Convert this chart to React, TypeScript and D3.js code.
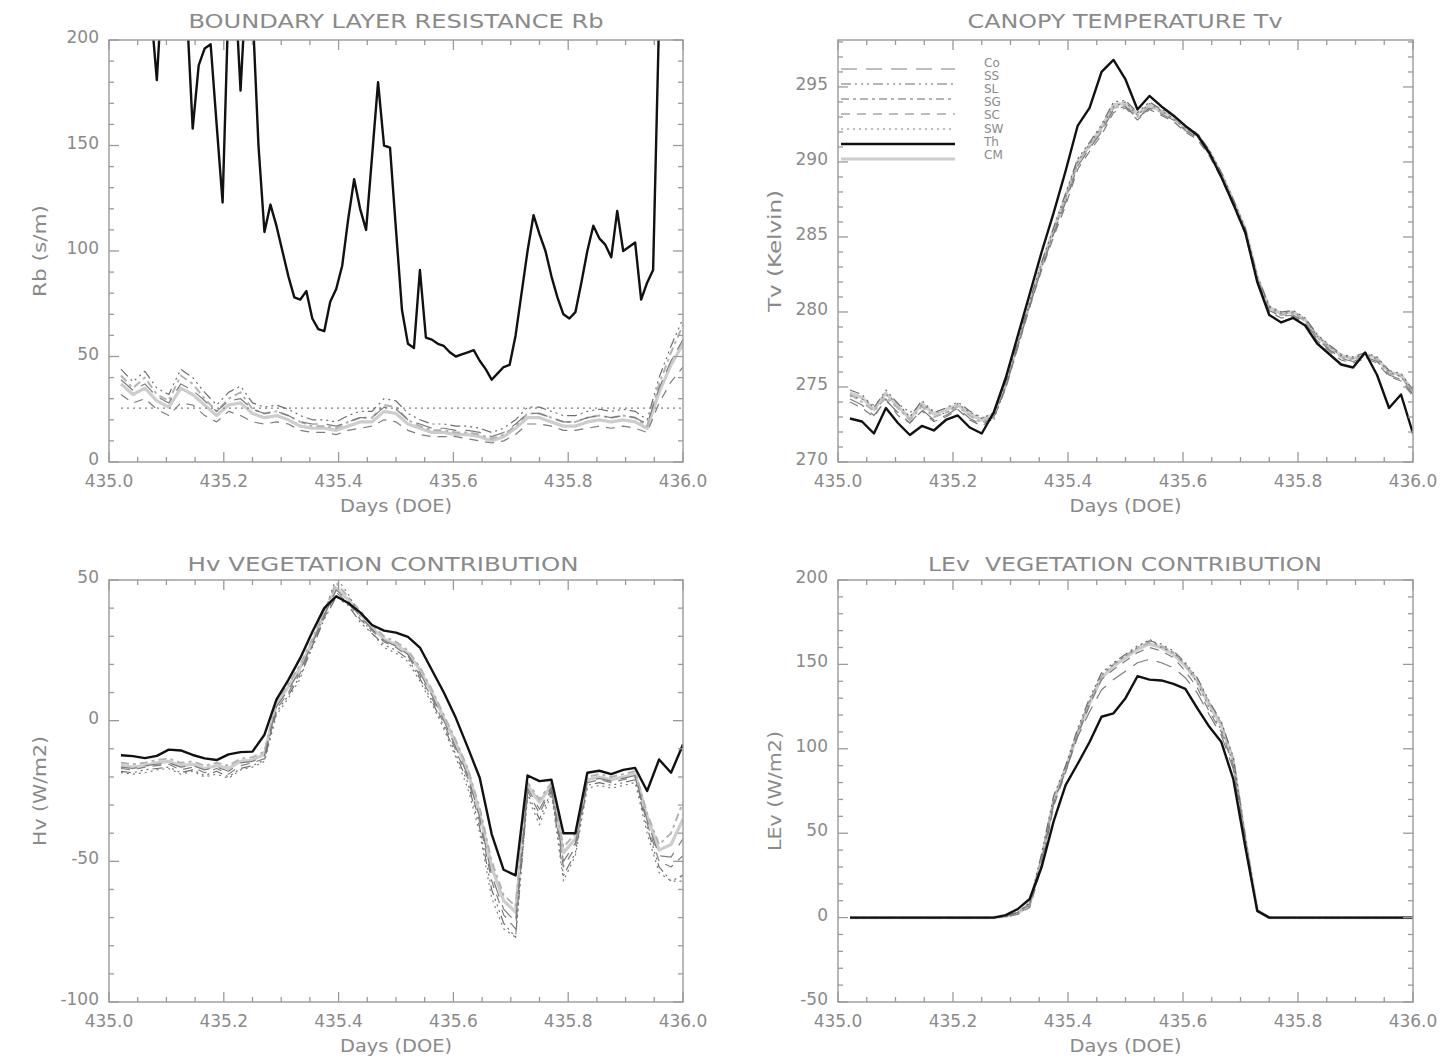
import React from 'react';
import * as d3 from 'd3';

// ---------- sampling grid (half-hourly; 15-min for Th resistance) ----------
const times48 = d3.range(1, 49).map((i) => 435 + i / 48);
const times96 = d3.range(1, 97).map((i) => 435 + i / 96);

// ---------- tick values ----------
const xMajorTicks = [435.0, 435.2, 435.4, 435.6, 435.8, 436.0];
const rbTicks = [0, 50, 100, 150, 200];
const tvTicks = [270, 275, 280, 285, 290, 295];
const hvTicks = [-100, -50, 0, 50];
const leTicks = [-50, 0, 50, 100, 150, 200];

const legendNames = ['Co', 'SS', 'SL', 'SG', 'SC', 'SW', 'Th', 'CM'];

// ---------- Boundary layer resistance Rb (s/m) ----------
const rbTh = [260,270,250,240,230,220,215,181,230,250,260,240,215,158,188,196,198,160,123,220,230,176,230,215,150,109,122,112,100,88,78,77,81,68,63,62,76,82,93,115,134,120,110,145,180,150,149,110,72,56,54,91,59,58,56,55,52,50,51,52,53,48,44,39,42,45,46,60,80,100,117,108,100,88,78,70,68,71,85,100,112,106,103,97,119,100,102,104,77,85,91,210,260,280,290,300];
const rbSS = [44,38,43,35,32,44,40,33,27,33,36,28,26,27,25,22,20,20,19,22,24,24,30,29,23,20,18,18,17,17,16,14,16,20,26,26,24,22,22,24,25,24,25,24,20,40,55,68];
const rbSL = [41,35,40,32,29,41,37,30,24,30,33,25,23,24,22,19,17,17,16,19,21,21,27,26,20,17,15,15,14,14,13,11,13,17,23,23,21,19,19,21,22,21,22,21,17,37,52,65];
const rbCo = [39,34,37,31,28,37,34,29,24,29,30,25,23,24,22,19,18,18,17,19,21,21,26,25,20,18,16,16,15,15,14,12,14,18,23,23,21,19,19,21,22,21,22,21,18,35,48,58];
const rbCM = [37,32,35,29,26,35,32,27,22,27,28,23,21,22,20,17,16,16,15,17,19,19,24,23,18,16,14,14,13,13,12,10,12,16,21,21,19,17,17,19,20,19,20,19,16,33,46,56];
const rbSG = [32,28,30,25,22,28,27,22,19,24,22,19,18,19,18,15,14,14,13,15,16,17,20,19,15,13,12,12,12,11,10,9,10,13,18,18,17,15,15,16,17,16,17,16,14,28,38,45];
const rbSW = [25.5,25.5,25.5,25.5,25.5,25.5,25.5,25.5,25.5,25.5,25.5,25.5,25.5,25.5,25.5,25.5,25.5,25.5,25.5,25.5,25.5,25.5,25.5,25.5,25.5,25.5,25.5,25.5,25.5,25.5,25.5,25.5,25.5,25.5,25.5,25.5,25.5,25.5,25.5,25.5,25.5,25.5,25.5,25.5,25.5,25.5,25.5,25.5];

// ---------- Canopy temperature Tv (K) ----------
const tvTh = [272.9,272.7,271.9,273.6,272.6,271.8,272.4,272.1,272.8,273.1,272.3,271.9,273.3,275.6,278.4,281.2,284.0,286.6,289.4,292.4,293.6,296.0,296.8,295.5,293.5,294.4,293.7,293.1,292.4,291.8,290.6,289.0,287.2,285.3,282.0,279.8,279.3,279.6,279.1,277.9,277.2,276.5,276.3,277.3,275.8,273.6,274.5,271.9];
const tvSS = [274.8,274.5,273.6,274.8,273.9,273.0,274.1,273.3,273.6,274.0,273.4,272.9,273.3,275.3,278.0,280.7,283.3,285.6,287.9,290.2,291.3,292.5,294.0,294.1,293.3,294.0,293.5,293.1,292.4,291.9,290.8,289.3,287.5,285.6,282.4,280.4,280.0,280.1,279.6,278.5,277.8,277.2,277.0,277.3,277.0,276.1,275.9,274.8];
const tvCM = [274.6,274.3,273.5,274.6,273.7,272.9,273.9,273.2,273.5,273.8,273.2,272.8,273.2,275.2,277.9,280.6,283.2,285.5,287.7,290.0,291.1,292.3,293.8,293.9,293.2,293.8,293.4,293.0,292.3,291.8,290.7,289.2,287.4,285.5,282.3,280.3,279.9,280.0,279.5,278.4,277.7,277.1,276.9,277.2,276.9,276.0,275.8,274.7];
const tvSL = [274.5,274.0,273.4,274.3,273.6,272.8,273.7,273.0,273.3,273.7,273.1,272.6,273.1,275.1,277.8,280.5,283.0,285.3,287.5,289.9,291.0,292.1,293.6,293.8,293.0,293.7,293.3,292.9,292.2,291.7,290.6,289.1,287.3,285.4,282.2,280.2,279.8,279.9,279.4,278.3,277.6,277.0,276.8,277.1,276.8,275.9,275.7,274.6];
const tvCo = [274.2,273.8,273.1,274.1,273.3,272.6,273.5,272.8,273.1,273.6,272.9,272.5,273.0,275.0,277.7,280.4,282.9,285.2,287.3,289.7,290.9,292.0,293.5,293.7,292.9,293.6,293.2,292.8,292.1,291.6,290.5,289.0,287.2,285.3,282.1,280.1,279.7,279.8,279.3,278.2,277.5,276.9,276.7,277.0,276.7,275.8,275.5,274.5];
const tvSG = [274.0,273.6,273.0,274.2,273.1,272.6,273.4,272.7,273.0,273.5,272.8,272.4,272.9,274.9,277.6,280.3,282.8,285.0,287.1,289.5,290.7,291.8,293.3,293.6,292.8,293.5,293.1,292.7,292.0,291.5,290.4,288.9,287.1,285.2,282.0,280.0,279.6,279.7,279.2,278.1,277.4,276.8,276.6,276.9,276.6,275.7,275.4,274.4];
const tvSW = [274.4,274.2,273.8,274.5,273.9,273.3,273.8,273.4,273.2,273.9,273.3,273.0,272.8,275.0,277.8,280.4,283.0,285.3,287.6,290.0,291.2,292.3,293.7,294.0,293.1,293.9,293.4,292.9,292.2,291.7,290.7,289.2,287.3,285.4,282.2,280.3,279.9,280.0,279.5,278.4,277.7,277.1,276.9,277.2,276.9,276.0,275.7,274.6];

// ---------- Hv vegetation contribution (W/m2) ----------
const hvTh = [-12.3,-12.6,-13.3,-12.5,-10.3,-10.6,-12.2,-13.4,-14.0,-12.0,-11.2,-11.0,-5.0,7.5,14.5,22.3,31.5,40.0,44.2,41.8,38.5,34.0,32.0,31.3,29.8,26.0,18.0,10.0,1.0,-9.5,-20.3,-40.3,-53.0,-55.0,-19.5,-21.5,-21.0,-40.0,-40.0,-18.5,-17.8,-19.0,-17.5,-16.8,-25.0,-13.8,-18.5,-8.5];
const hvSL = [-15,-15.5,-15,-14,-13.5,-15,-14.5,-16,-15,-16,-13.5,-13,-11,7,13,20,29,39,49,44,39,34,30,28,25,19,11,2,-7,-17,-31,-50,-62,-66,-22,-28,-22,-45,-40,-20,-19,-20,-19,-18,-33,-44,-40,-29];
const hvCM = [-16,-16.5,-16,-15,-14.5,-16,-15.5,-17,-16,-17,-14.5,-14,-12,6,12,19,28,38,47,43,38,33,29,27,24,18,10,1,-8,-18,-33,-52,-64,-68,-23,-29,-23,-47,-42,-21,-20,-21,-20,-19,-34,-46,-44,-35];
const hvCo = [-16.5,-17,-16,-15.5,-15,-16.5,-16,-17.5,-16.5,-18,-15,-14.5,-12.5,5,11,18,27.5,37.5,46.5,42.5,37,32.5,28.5,26.5,23.5,17,9,0,-9.5,-19.5,-34.5,-55,-67,-71.5,-24,-31.5,-23.5,-50,-43.5,-21.5,-20.5,-21.5,-20.5,-19.5,-35.5,-48,-48.5,-42];
const hvSG = [-17,-17.5,-16.5,-16,-15.5,-17.5,-16.5,-18.5,-17,-19,-16,-15,-13.5,4,10,17,26.5,36.5,45.5,42,36,32,28,26,23,16,8,-1,-10.5,-20.5,-36,-57,-69,-74,-25,-33,-24,-52,-45,-22,-21,-22,-21,-20,-36.5,-50,-52,-48];
const hvSS = [-18,-18.5,-17.5,-17,-16.5,-18.5,-17.5,-19.5,-18,-20,-17,-16,-14,3,9,16,26,36,44,41,35,31,27,25,22,15,7,-2,-12,-22,-38,-60,-72,-77,-26,-35,-25,-55,-47,-23,-22,-23,-22,-21,-38,-52,-57,-55];
const hvSW = [-18.5,-19,-18.5,-17.5,-17,-19,-18,-20,-19,-20.5,-17.5,-16.5,-14.5,2,8,15,27,38,51,45,37,31,26,24,21,14,6,-3,-13,-24,-40,-63,-74,-77,-27,-37,-26,-57,-48,-24,-23,-24,-23,-22,-40,-54,-57,-57];

// ---------- LEv vegetation contribution (W/m2) ----------
const leTh = [0,0,0,0,0,0,0,0,0,0,0,0,0,1.5,5,11,30,57,78.5,91,104,119,121,130,143,141,140.5,138.5,135.5,124,113,104,82,42,4,0,0,0,0,0,0,0,0,0,0,0,0,0];
const leSS = [0,0,0,0,0,0,0,0,0,0,0,0,0,1,3,9,38,72,90,112,130,145,151,156,161,164,162,158,151,142,128,116,95,48,4,0,0,0,0,0,0,0,0,0,0,0,0,0];
const leSL = [0,0,0,0,0,0,0,0,0,0,0,0,0,1,3,8,36,70,89,110,128,143,150,155,160,163,161,157,150,141,127,115,94,47,4,0,0,0,0,0,0,0,0,0,0,0,0,0];
const leCM = [0,0,0,0,0,0,0,0,0,0,0,0,0,0.8,2.5,8,34,69,88,109,127,142,149,154,159,162,160,156,149,140,126,114,93,46,4,0,0,0,0,0,0,0,0,0,0,0,0,0];
const leSG = [0,0,0,0,0,0,0,0,0,0,0,0,0,0.5,2,6,30,66,86,108,126,141,147,152,157,160,158,154,146,136,122,110,90,45,4,0,0,0,0,0,0,0,0,0,0,0,0,0];
const leSW = [0,0,0,0,0,0,0,0,0,0,0,0,0,0.5,2,7,32,68,88,110,128,144,150,155,160,165,160,157,150,139,124,111,91,46,4,0,0,0,0,0,0,0,0,0,0,0,0,0];
const leCo = [0,0,0,0,0,0,0,0,0,0,0,0,0,1,3,8,34,68,87,107,122,135,141,146,151,153,151,148,142,133,120,108,88,44,4,0,0,0,0,0,0,0,0,0,0,0,0,0];

// ---------- styles ----------
type Sty = { stroke: string; width: number; dash?: string };
const STY: Record<string, Sty> = {
  CM: { stroke: '#cdcdcd', width: 3.2 },
  Co: { stroke: '#7d7d7d', width: 1.2, dash: '16,9' },
  SS: { stroke: '#6e6e6e', width: 1.2, dash: '10,4,2,4,2,4,2,4' },
  SL: { stroke: '#b3b3b3', width: 2.0, dash: '8,4,3,4' },
  SG: { stroke: '#7d7d7d', width: 1.2, dash: '9,7' },
  SW: { stroke: '#7d7d7d', width: 1.2, dash: '2,4' },
  Th: { stroke: '#111111', width: 2.4 },
};
const legendLineKeys = ['Co', 'SS', 'SL', 'SG', 'SW', 'Th', 'CM'];

const FONT = "'DejaVu Sans', 'Liberation Sans', sans-serif";
const TXT = '#8a8a8a';
const AX = '#9a9a9a';

type Ser = { key: string; values: number[]; times: number[] };

type PanelProps = {
  id: string;
  x0: number; x1: number; y0: number; y1: number;
  yDomain: [number, number];
  yTicks: number[];
  yMinorStep: number;
  title: string; titleX: number; titleY: number; titleLen: number;
  ylabel: string; ylabelX: number; ylabelLen: number;
  series: Ser[];
  legend?: boolean;
};

function Panel(p: PanelProps) {
  const xs = d3.scaleLinear().domain([435, 436]).range([p.x0, p.x1]);
  const ys = d3.scaleLinear().domain(p.yDomain).range([p.y1, p.y0]);
  const xMinor = d3.range(0, 21).map((i) => 435 + i * 0.05);
  const nMinor = Math.floor((p.yDomain[1] - p.yDomain[0]) / p.yMinorStep + 1e-6);
  const yMinor = d3.range(0, nMinor + 1).map((i) => p.yDomain[0] + i * p.yMinorStep);
  const isMajorY = (v: number) => p.yTicks.some((t) => Math.abs(t - v) < 1e-6);
  const isMajorX = (v: number) => xMajorTicks.some((t) => Math.abs(t - v) < 1e-6);
  const order = ['CM', 'SL', 'Co', 'SG', 'SS', 'SW', 'Th'];
  const sorted = [...p.series].sort((a, b) => order.indexOf(a.key) - order.indexOf(b.key));
  const yMid = (p.y0 + p.y1) / 2;
  const ticks: JSX.Element[] = [];
  xMinor.forEach((v, i) => {
    const L = isMajorX(v) ? 10 : 5;
    const x = xs(v);
    ticks.push(<line key={'xb' + i} x1={x} x2={x} y1={p.y1} y2={p.y1 - L} />);
    ticks.push(<line key={'xt' + i} x1={x} x2={x} y1={p.y0} y2={p.y0 + L} />);
  });
  yMinor.forEach((v, i) => {
    const L = isMajorY(v) ? 10 : 5;
    const y = ys(v);
    ticks.push(<line key={'yl' + i} x1={p.x0} x2={p.x0 + L} y1={y} y2={y} />);
    ticks.push(<line key={'yr' + i} x1={p.x1} x2={p.x1 - L} y1={y} y2={y} />);
  });
  return (
    <g>
      <defs>
        <clipPath id={p.id}>
          <rect x={p.x0} y={p.y0} width={p.x1 - p.x0} height={p.y1 - p.y0} />
        </clipPath>
      </defs>
      <g clipPath={`url(#${p.id})`}>
        {sorted.map((s) => {
          const st = STY[s.key];
          const line = d3
            .line<number>()
            .x((_, i) => xs(s.times[i]))
            .y((d) => ys(d));
          return (
            <path
              key={s.key}
              d={line(s.values) || ''}
              fill="none"
              stroke={st.stroke}
              strokeWidth={st.width}
              strokeDasharray={st.dash}
              strokeLinejoin="round"
            />
          );
        })}
      </g>
      <rect x={p.x0} y={p.y0} width={p.x1 - p.x0} height={p.y1 - p.y0} fill="none" stroke={AX} strokeWidth={1.4} />
      <g stroke={AX} strokeWidth={1.3}>{ticks}</g>
      <g fill={TXT} fontFamily={FONT} fontSize={17}>
        {xMajorTicks.map((v) => (
          <text key={'xl' + v} x={xs(v)} y={p.y1 + 25} textAnchor="middle">
            {v.toFixed(1)}
          </text>
        ))}
        {p.yTicks.map((v) => (
          <text key={'yl' + v} x={p.x0 - 10} y={ys(v) + 3} textAnchor="end">
            {String(v)}
          </text>
        ))}
      </g>
      <text x={p.titleX} y={p.titleY} textAnchor="middle" fill={TXT} fontFamily={FONT} fontSize={19}
        textLength={p.titleLen} lengthAdjust="spacingAndGlyphs" style={{ whiteSpace: 'pre' }}>
        {p.title}
      </text>
      <text x={(p.x0 + p.x1) / 2} y={p.y1 + 50} textAnchor="middle" fill={TXT} fontFamily={FONT} fontSize={17}
        textLength={112} lengthAdjust="spacingAndGlyphs">
        Days (DOE)
      </text>
      <text transform={`translate(${p.ylabelX},${yMid}) rotate(-90)`} textAnchor="middle" fill={TXT}
        fontFamily={FONT} fontSize={17} textLength={p.ylabelLen} lengthAdjust="spacingAndGlyphs">
        {p.ylabel}
      </text>
      {p.legend && (
        <g>
          {legendLineKeys.map((k, j) => {
            const st = STY[k];
            return (
              <line key={'lg' + k} x1={841} x2={955} y1={69 + j * 15} y2={69 + j * 15}
                stroke={st.stroke} strokeWidth={st.width} strokeDasharray={st.dash} />
            );
          })}
          {legendNames.map((n, j) => (
            <text key={'ln' + n} x={984} y={63 + j * 13.1} dominantBaseline="central" fill={TXT}
              fontFamily={FONT} fontSize={12}>
              {n}
            </text>
          ))}
        </g>
      )}
    </g>
  );
}

export default function App() {
  const mk = (keys: string[], arrs: number[][], times: number[][]): Ser[] =>
    keys.map((k, i) => ({ key: k, values: arrs[i], times: times[i] }));
  const t48 = times48;
  const rbSeries = mk(['Th', 'SS', 'SL', 'Co', 'CM', 'SG', 'SW'],
    [rbTh, rbSS, rbSL, rbCo, rbCM, rbSG, rbSW], [times96, t48, t48, t48, t48, t48, t48]);
  const tvSeries = mk(['Th', 'SS', 'CM', 'SL', 'Co', 'SG', 'SW'],
    [tvTh, tvSS, tvCM, tvSL, tvCo, tvSG, tvSW], [t48, t48, t48, t48, t48, t48, t48]);
  const hvSeries = mk(['Th', 'SL', 'CM', 'Co', 'SG', 'SS', 'SW'],
    [hvTh, hvSL, hvCM, hvCo, hvSG, hvSS, hvSW], [t48, t48, t48, t48, t48, t48, t48]);
  const leSeries = mk(['Th', 'SS', 'SL', 'CM', 'SG', 'SW', 'Co'],
    [leTh, leSS, leSL, leCM, leSG, leSW, leCo], [t48, t48, t48, t48, t48, t48, t48]);
  return (
    <svg width={1450} height={1059} style={{ position: 'absolute', left: 0, top: 0, background: '#fff' }}>
      <rect x={0} y={0} width={1450} height={1059} fill="#fff" />
      <Panel id="c1" x0={109} x1={683} y0={40} y1={462} yDomain={[0, 200]} yTicks={rbTicks} yMinorStep={10}
        title="BOUNDARY LAYER RESISTANCE Rb" titleX={396} titleY={28} titleLen={415}
        ylabel="Rb (s/m)" ylabelX={46} ylabelLen={92} series={rbSeries} />
      <Panel id="c2" x0={838} x1={1413} y0={40} y1={462} yDomain={[270, 298.13]} yTicks={tvTicks} yMinorStep={1}
        title="CANOPY TEMPERATURE Tv" titleX={1125} titleY={28} titleLen={315}
        ylabel="Tv (Kelvin)" ylabelX={781} ylabelLen={122} series={tvSeries} legend />
      <Panel id="c3" x0={109} x1={683} y0={580} y1={1002} yDomain={[-100, 50]} yTicks={hvTicks} yMinorStep={10}
        title="Hv VEGETATION CONTRIBUTION" titleX={383} titleY={571} titleLen={391}
        ylabel="Hv (W/m2)" ylabelX={46} ylabelLen={110} series={hvSeries} />
      <Panel id="c4" x0={838} x1={1413} y0={580} y1={1002} yDomain={[-50, 200]} yTicks={leTicks} yMinorStep={10}
        title="LEv  VEGETATION CONTRIBUTION" titleX={1125} titleY={571} titleLen={394}
        ylabel="LEv (W/m2)" ylabelX={781} ylabelLen={120} series={leSeries} />
    </svg>
  );
}
